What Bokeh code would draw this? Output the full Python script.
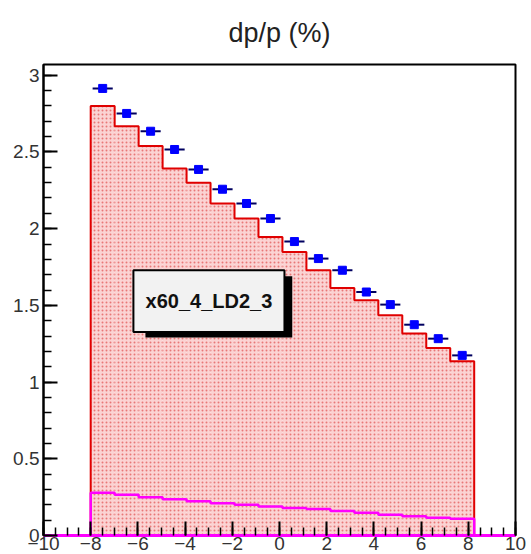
import numpy as np
from bokeh.plotting import figure
from bokeh.models import Range1d, SingleIntervalTicker, Label
from bokeh.embed import file_html
from bokeh.resources import INLINE

# ---- data ----
x_lo, x_hi, n_bins = -8.0, 8.25, 16
data_vals = [2.914, 2.751, 2.635, 2.516, 2.386, 2.257, 2.164, 2.066,
             1.916, 1.805, 1.729, 1.587, 1.505, 1.374, 1.283, 1.174]
sim_vals = [2.80, 2.668, 2.538, 2.392, 2.30, 2.164, 2.066, 1.946,
            1.848, 1.729, 1.613, 1.533, 1.435, 1.316, 1.222, 1.135]
bkg_vals = [0.279, 0.265, 0.25, 0.237, 0.224, 0.211, 0.20, 0.189,
            0.18, 0.172, 0.159, 0.148, 0.135, 0.126, 0.115, 0.109]
title_text = "dp/p (%)"
label_text = "x60_4_LD2_3"

edges = np.linspace(x_lo, x_hi, n_bins + 1)
centers = 0.5 * (edges[:-1] + edges[1:])
bw = edges[1] - edges[0]

def step_outline(vals, extend=None):
    xs, ys = [], []
    if extend is not None:
        xs += [extend[0], edges[0]]
        ys += [0, 0]
    else:
        xs.append(edges[0]); ys.append(0)
    for i, v in enumerate(vals):
        xs += [edges[i], edges[i + 1]]
        ys += [v, v]
    xs.append(edges[-1]); ys.append(0)
    if extend is not None:
        xs.append(extend[1]); ys.append(0)
    return xs, ys

p = figure(width=531, height=554, output_backend="svg", toolbar_location=None,
           x_range=Range1d(-10, 10), y_range=Range1d(0, 3.07),
           min_border_left=43, min_border_right=16, min_border_top=64,
           min_border_bottom=19, title=title_text)
p.title.align = "center"
p.title.vertical_align = "top"
p.title.text_font = "Liberation Sans"
p.title.text_font_size = "27px"
p.title.text_font_style = "normal"
p.title.text_color = "#222222"
p.title.text_line_height = 0.85
p.title.standoff = 30
p.grid.visible = False
p.outline_line_color = "black"
p.outline_line_width = 2
p.background_fill_color = "white"
p.border_fill_color = "white"

# filled histogram
p.quad(left=edges[:-1], right=edges[1:], bottom=0, top=sim_vals,
       fill_color="#fbd3d3", line_color=None,
       hatch_pattern="dot", hatch_color="#e05050", hatch_scale=4,
       hatch_weight=1, hatch_alpha=0.7)
sx, sy = step_outline(sim_vals)
p.line(sx, sy, line_color="#e00000", line_width=2)

# magenta background histogram
bx, by = step_outline(bkg_vals, extend=(-10, 10))
p.line(bx, by, line_color="#ff00ff", line_width=2.5)

# data points
p.segment(x0=centers - 0.42 * bw, x1=centers + 0.42 * bw, y0=data_vals,
          y1=data_vals, line_color="#000060", line_width=2)
p.scatter(centers, data_vals, marker="square", size=8, fill_color="#0000ff",
          line_color="#0000ff")

# label box with shadow
p.quad(left=[-5.68], right=[0.54], top=[1.69], bottom=[1.29],
       fill_color="black", line_color=None)
p.quad(left=[-6.19], right=[0.21], top=[1.729], bottom=[1.326],
       fill_color="#f2f2f2", line_color="black", line_width=2)
p.add_layout(Label(x=-2.99, y=1.527, text=label_text, text_align="center",
                   text_baseline="middle", text_font="Liberation Sans",
                   text_font_style="bold", text_font_size="20px",
                   text_color="#111111"))

# axes
p.xaxis.ticker = SingleIntervalTicker(interval=2, num_minor_ticks=4)
p.yaxis.ticker = SingleIntervalTicker(interval=0.5, num_minor_ticks=5)
for ax in (p.xaxis, p.yaxis):
    ax.major_tick_in = 14
    ax.major_tick_out = 0
    ax.minor_tick_in = 8
    ax.minor_tick_out = 0
    ax.axis_line_width = 2
    ax.major_tick_line_width = 2
    ax.minor_tick_line_width = 1.5
    ax.major_label_text_font = "Liberation Sans"
    ax.major_label_text_font_size = "19px"
    ax.major_label_text_color = "#333333"
p.xaxis.axis_line_color = "#ff00ff"
p.xaxis.axis_line_width = 3
p.xaxis.major_label_standoff = 1
p.yaxis.major_label_standoff = 4

open("out.html", "w").write(file_html(p, INLINE))
